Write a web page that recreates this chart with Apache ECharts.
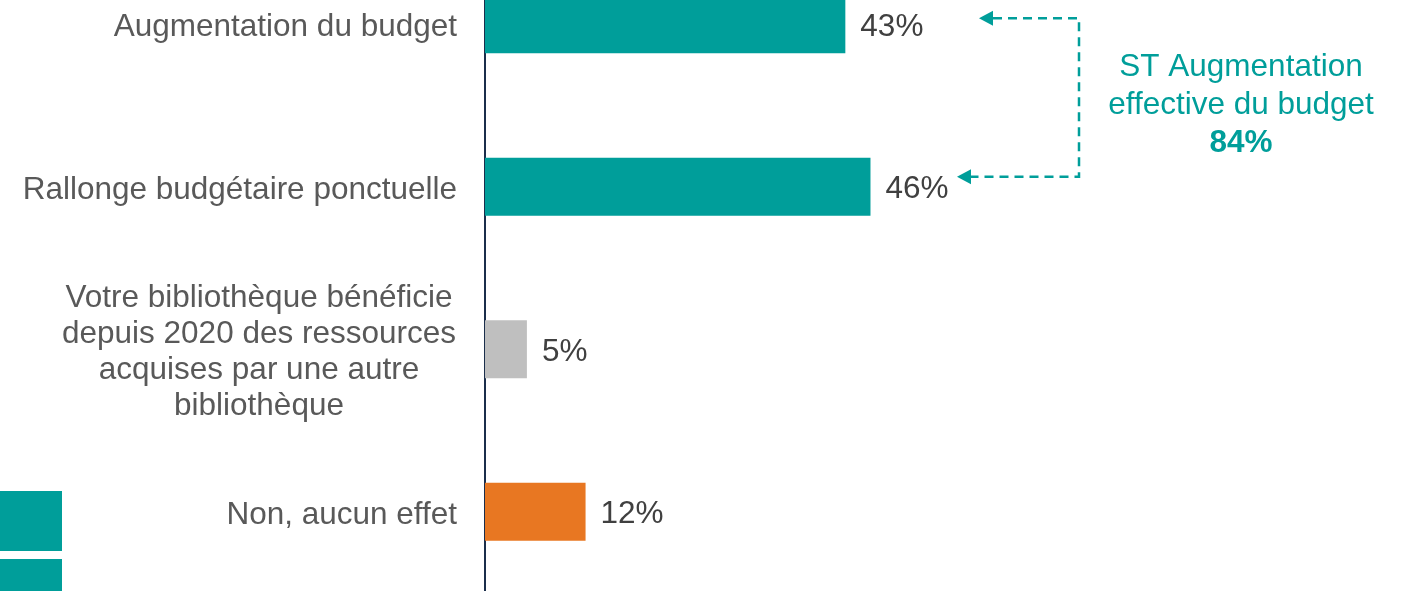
<!DOCTYPE html>
<html>
<head>
<meta charset="utf-8">
<script src="https://cdn.jsdelivr.net/npm/echarts@6/dist/echarts.min.js"></script>
<style>
  html, body { margin: 0; padding: 0; background: #ffffff; }
  #chart { width: 1406px; height: 591px; }
</style>
</head>
<body>
<div id="chart"></div>
<script>
// Survey answers and their shares (%)
const categories = [
  'Augmentation du budget',
  'Rallonge budgétaire ponctuelle',
  'Votre bibliothèque bénéficie\ndepuis 2020 des ressources\nacquises par une autre\nbibliothèque',
  'Non, aucun effet'
];
const values = [43, 46, 5, 12];
const barColors = ['#009E9A', '#009E9A', '#BFBFBF', '#E87722'];

// Subtotal callout for the two budget-increase answers
const subtotalLines = ['ST Augmentation', 'effective du budget'];
const subtotalValue = 84;

const FONT = 'Arial, "Liberation Sans", sans-serif';
const FS = 31.5;
const TEAL = '#009E9A';

const chart = echarts.init(document.getElementById('chart'), null, { renderer: 'canvas' });

chart.setOption({
  backgroundColor: '#ffffff',
  animation: false,
  grid: { left: 485, top: -57, width: 838, height: 650, containLabel: false, outerBoundsMode: 'none' },
  xAxis: {
    type: 'value', min: 0, max: 100,
    axisLine: { show: false }, axisTick: { show: false },
    axisLabel: { show: false }, splitLine: { show: false }
  },
  yAxis: {
    type: 'category', inverse: true, data: categories,
    axisLine: { show: true, lineStyle: { color: '#1B2E4B', width: 2 } },
    axisTick: { show: false },
    axisLabel: {
      margin: 28,
      color: '#595959',
      fontFamily: FONT,
      fontSize: FS,
      lineHeight: 36,
      padding: [7, 0, 0, 0],
      formatter: function (v) {
        return v.indexOf('\n') >= 0 ? '{c|' + v + '}' : v;
      },
      rich: {
        c: { width: 396, align: 'center', color: '#595959', fontFamily: FONT, fontSize: FS, lineHeight: 36 }
      }
    }
  },
  series: [{
    type: 'bar',
    barWidth: 58,
    data: values.map((v, i) => ({ value: v, itemStyle: { color: barColors[i] } })),
    label: {
      show: true, position: 'right', distance: 15, offset: [0, 3],
      formatter: '{c}%',
      color: '#404040', fontFamily: FONT, fontSize: FS
    }
  }]
});

// Bracket and callout next to the two budget bars
const yTop = chart.convertToPixel({ yAxisIndex: 0 }, categories[0]) - 6;
const yBot = chart.convertToPixel({ yAxisIndex: 0 }, categories[1]) - 10;
const bracketX = 1079;
const tipTop = 979;
const tipBot = 957;
const dash = { stroke: TEAL, lineWidth: 2.5, lineDash: [9, 6] };
const arrowLen = 14, arrowHalf = 7.5;

chart.setOption({
  graphic: [
    { type: 'polyline', shape: { points: [[tipTop + arrowLen, yTop], [bracketX, yTop], [bracketX, yBot], [tipBot + arrowLen, yBot]] }, style: Object.assign({ fill: null }, dash) },
    { type: 'polygon', shape: { points: [[tipTop, yTop], [tipTop + arrowLen, yTop - arrowHalf], [tipTop + arrowLen, yTop + arrowHalf]] }, style: { fill: TEAL } },
    { type: 'polygon', shape: { points: [[tipBot, yBot], [tipBot + arrowLen, yBot - arrowHalf], [tipBot + arrowLen, yBot + arrowHalf]] }, style: { fill: TEAL } },
    { type: 'text', x: 1241, y: 67, style: { text: subtotalLines[0], fill: TEAL, font: FS + 'px ' + FONT, textAlign: 'center', textVerticalAlign: 'middle' } },
    { type: 'text', x: 1241, y: 105, style: { text: subtotalLines[1], fill: TEAL, font: FS + 'px ' + FONT, textAlign: 'center', textVerticalAlign: 'middle' } },
    { type: 'text', x: 1241, y: 143, style: { text: subtotalValue + '%', fill: TEAL, font: 'bold ' + FS + 'px ' + FONT, textAlign: 'center', textVerticalAlign: 'middle' } },
    // Teal swatches at the lower left corner
    { type: 'rect', shape: { x: 0, y: 491, width: 62, height: 60 }, style: { fill: TEAL } },
    { type: 'rect', shape: { x: 0, y: 559, width: 62, height: 40 }, style: { fill: TEAL } }
  ]
});
</script>
</body>
</html>
